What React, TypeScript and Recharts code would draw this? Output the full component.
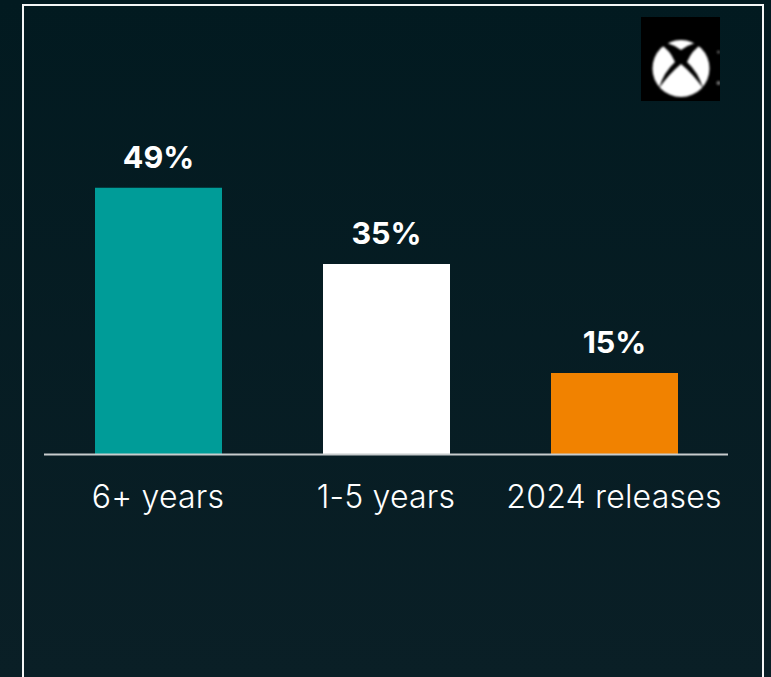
import React from "react";
import { BarChart, Bar, XAxis, YAxis, Cell, LabelList } from "recharts";

const categories = ["6+ years", "1-5 years", "2024 releases"];
const shares = [49, 35, 15];
const barColors = ["#009c98", "#ffffff", "#f18200"];

const rows = categories.map((name, i) => ({ name, share: shares[i] }));

const FONT = "Inter, 'Noto Sans', sans-serif";

// Console badge in the top right corner of the panel
function ConsoleBadge() {
  return (
    <svg
      width={79}
      height={84}
      viewBox="641 17 79 84"
      style={{ position: "absolute", left: 641, top: 17 }}
    >
      <defs>
        <filter id="badgeSoft" x="-10%" y="-10%" width="120%" height="120%">
          <feGaussianBlur stdDeviation="0.8" />
        </filter>
        <clipPath id="badgeDisc">
          <circle cx={681} cy={68.5} r={28.5} />
        </clipPath>
      </defs>
      <rect x={641} y={17} width={79} height={84} fill="#000000" />
      <g filter="url(#badgeSoft)">
        <g clipPath="url(#badgeDisc)" fill="#ffffff">
          <path d="M664 36 L698 36 L695 43 Q688 45 681 50 Q674 45 667 43 Z" />
          <path d="M645 40 L660 44 Q670 50 675 62 Q664 72 659 88 L645 88 Z" />
          <path d="M717 40 L702 44 Q692 50 687 62 Q698 72 703 88 L717 88 Z" />
          <path d="M681 64 Q692 73 703 88 L703 100 L659 100 L659 88 Q670 73 681 64 Z" />
        </g>
        <circle cx={718.5} cy={52} r={1.5} fill="#666666" />
        <circle cx={718.5} cy={83} r={2} fill="#777777" />
      </g>
    </svg>
  );
}

export default function App() {
  return (
    <div
      style={{
        position: "absolute",
        left: 0,
        top: 0,
        width: 771,
        height: 677,
        overflow: "hidden",
        background: "linear-gradient(180deg, #021a20 0%, #0a1f26 100%)",
      }}
    >
      <div
        style={{
          position: "absolute",
          left: 22,
          top: 4,
          width: 738,
          height: 700,
          border: "2px solid #f4f6f6",
          boxSizing: "content-box",
        }}
      />
      <ConsoleBadge />
      <div style={{ position: "absolute", left: 0, top: 0 }}>
        <BarChart
          width={771}
          height={677}
          data={rows}
          margin={{ top: 128, right: 43, bottom: 162.5, left: 44 }}
          barSize={127}
        >
          <YAxis hide domain={[0, 60]} />
          <XAxis
            dataKey="name"
            height={60}
            axisLine={{ stroke: "#c8cccd", strokeWidth: 2 }}
            tickLine={false}
            interval={0}
            tickMargin={25}
            tick={{ fill: "#ffffff", fontSize: 32, fontFamily: FONT, fontWeight: 300, letterSpacing: 0.2 }}
          />
          <Bar dataKey="share" isAnimationActive={false}>
            {rows.map((row, i) => (
              <Cell key={row.name} fill={barColors[i]} />
            ))}
            <LabelList
              dataKey="share"
              position="top"
              offset={20}
              formatter={(v: number) => `${v}%`}
              fill="#ffffff"
              fontSize={30.5}
              fontWeight={700}
              fontFamily={FONT}
            />
          </Bar>
        </BarChart>
      </div>
    </div>
  );
}
